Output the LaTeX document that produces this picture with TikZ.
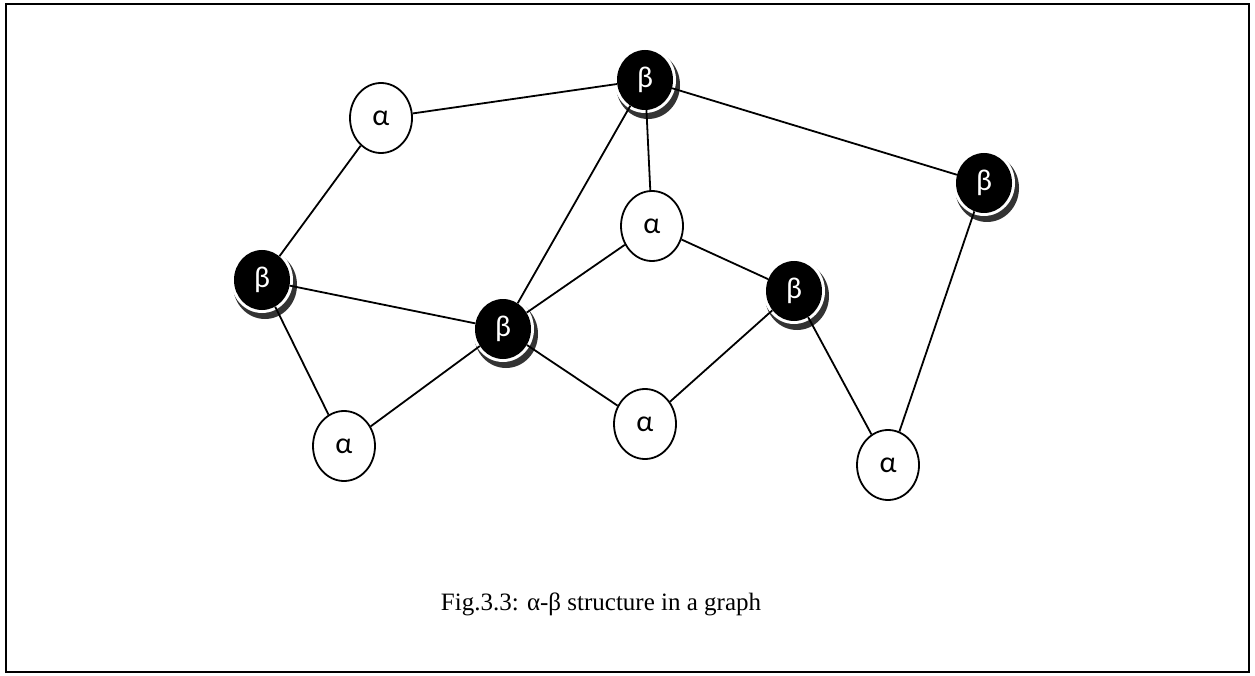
\documentclass[tikz,border=0pt]{standalone}
\usepackage{fontspec}
\setmainfont{Liberation Serif}
\newfontfamily\greekfont{Carlito}
\usetikzlibrary{shapes.geometric,backgrounds}
\pgfdeclarelayer{edgelayer}
\pgfsetlayers{background,edgelayer,main}
\begin{document}
\begin{tikzpicture}[x=1pt,y=-1pt,
  anode/.style={ellipse,draw=black,line width=1.8pt,fill=white,
    minimum width=62pt,minimum height=70pt,inner sep=0pt,
    font=\greekfont\fontsize{30}{30}\selectfont},
  bnode/.style={ellipse,fill=black,text=white,
    minimum width=56pt,minimum height=60pt,inner sep=0pt,
    font=\greekfont\fontsize{30}{30}\selectfont},
  link/.style={line width=1.8pt,draw=black},
  frame/.style={line width=2.2pt,draw=black}]
\useasboundingbox (0,0) rectangle (1255,676);
\draw[frame] (6,4) rectangle (1249,672);

% alpha nodes (white)
\node[anode] (a1) at (381,118) {α};
\node[anode] (a2) at (652,226) {α};
\node[anode] (a3) at (344,446) {α};
\node[anode] (a4) at (645,424) {α};
\node[anode] (a5) at (888,465) {α};

% beta nodes (black)
\node[bnode] (b1) at (645,80) {β};
\node[bnode] (b2) at (984,183) {β};
\node[bnode] (b3) at (262,280) {β};
\node[bnode] (b4) at (503,329) {β};
\node[bnode] (b5) at (794,291) {β};

% crescent shadows behind the black nodes
\begin{pgfonlayer}{background}
  \foreach \n in {b1,b2,b3,b4,b5}{
    \fill[black!80] ([shift={(3,5)}]\n.center) ellipse (32pt and 34pt);
    \fill[white] (\n.center) ellipse (31pt and 33pt);
  }
\end{pgfonlayer}

% connections
\begin{pgfonlayer}{edgelayer}
  \draw[link] (a1) -- (b1);
  \draw[link] (a1) -- (b3);
  \draw[link] (b1) -- (b2);
  \draw[link] (b1) -- (a2);
  \draw[link] (b1) -- (b4);
  \draw[link] (b3) -- (b4);
  \draw[link] (b3) -- (a3);
  \draw[link] (a3) -- (b4);
  \draw[link] (b4) -- (a2);
  \draw[link] (a2) -- (b5);
  \draw[link] (b4) -- (a4);
  \draw[link] (a4) -- (b5);
  \draw[link] (b5) -- (a5);
  \draw[link] (a5) -- (b2);
\end{pgfonlayer}

\node[font=\fontsize{25}{25}\selectfont,anchor=base] (cap) at (601,610)
  {Fig.3.3: α-β structure in a graph};
\end{tikzpicture}
\end{document}
